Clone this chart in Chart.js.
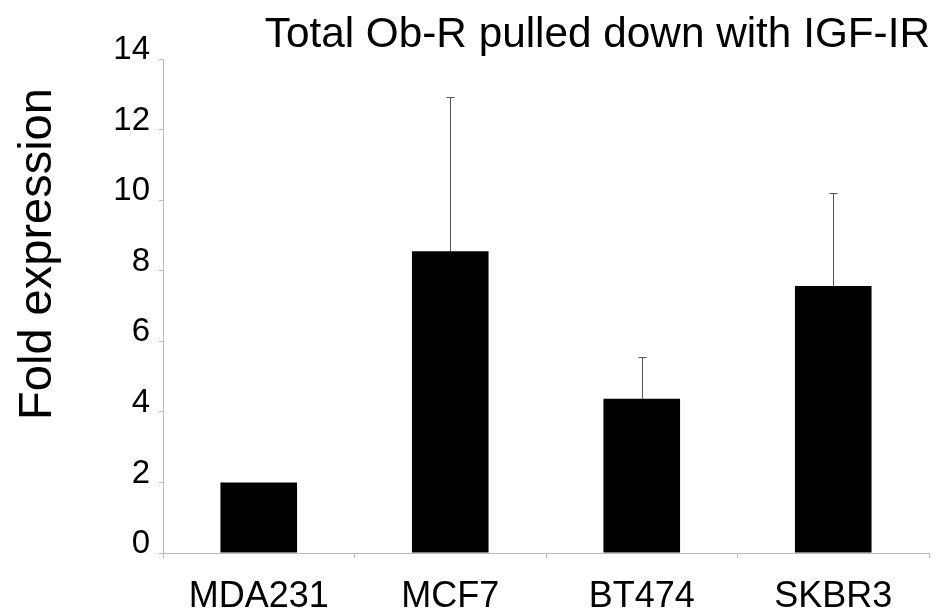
<!DOCTYPE html>
<html>
<head>
<meta charset="utf-8">
<title>Total Ob-R pulled down with IGF-IR</title>
<script src="https://cdn.jsdelivr.net/npm/chart.js@4"></script>
<style>
  html, body { margin: 0; padding: 0; background: #fff; }
  #wrap { width: 949px; height: 614px; }
</style>
</head>
<body>
<div id="wrap"><canvas id="foldChart" width="949" height="614"></canvas></div>
<script>
// data
const cellLines = ["MDA231", "MCF7", "BT474", "SKBR3"];
const foldValues = [2.0, 8.55, 4.37, 7.57];
const errorTops = [null, 12.93, 5.56, 10.21];   // upper end of each error bar
const yTicks = [0, 2, 4, 6, 8, 10, 12, 14];

const FONT = '"Liberation Sans", Arial, Helvetica, sans-serif';

// draws the upward-only error bars with small caps
const errorBarPlugin = {
  id: 'errorBars',
  afterDatasetsDraw(chart) {
    const ctx = chart.ctx;
    const meta = chart.getDatasetMeta(0);
    const y = chart.scales.y;
    ctx.save();
    ctx.strokeStyle = '#555';
    ctx.lineWidth = 1;
    meta.data.forEach((bar, i) => {
      if (errorTops[i] == null) return;
      const x = Math.round(bar.x) + 0.5;
      const yTop = Math.round(y.getPixelForValue(errorTops[i])) + 0.5;
      ctx.beginPath();
      ctx.moveTo(x, bar.y);
      ctx.lineTo(x, yTop);
      ctx.moveTo(x - 4, yTop);
      ctx.lineTo(x + 4, yTop);
      ctx.stroke();
    });
    ctx.restore();
  }
};

// chart title (top right) and the y axis title, which sits a bit above centre
const textPlugin = {
  id: 'figureText',
  afterDraw(chart) {
    const ctx = chart.ctx;
    const area = chart.chartArea;
    ctx.save();
    ctx.fillStyle = '#000';
    ctx.font = '42.3px ' + FONT;
    ctx.textAlign = 'right';
    ctx.textBaseline = 'alphabetic';
    ctx.fillText('Total Ob-R pulled down with IGF-IR', area.right + 1, 47);

    ctx.font = '47px ' + FONT;
    ctx.textAlign = 'center';
    ctx.translate(51, 254);
    ctx.rotate(-Math.PI / 2);
    ctx.fillText('Fold expression', 0, 0);
    ctx.restore();
  }
};

const ctx = document.getElementById('foldChart').getContext('2d');
new Chart(ctx, {
  type: 'bar',
  data: {
    labels: cellLines,
    datasets: [{
      data: foldValues,
      backgroundColor: '#000',
      borderColor: '#000',
      borderWidth: 0,
      barPercentage: 0.4,
      categoryPercentage: 1.0
    }]
  },
  options: {
    responsive: false,
    animation: false,
    layout: { padding: { top: 59, right: 20, left: 0, bottom: 0 } },
    plugins: {
      legend: { display: false },
      tooltip: { enabled: false },
      title: { display: false }
    },
    scales: {
      x: {
        grid: {
          drawOnChartArea: false,
          drawTicks: true,
          tickLength: 5,
          tickColor: '#bbb',
          offset: true
        },
        border: { color: '#bbb', width: 1 },
        ticks: {
          color: '#000',
          font: { family: FONT, size: 36 },
          padding: 17,
          maxRotation: 0
        },
        afterFit(scale) { scale.height = 61; }
      },
      y: {
        min: 0,
        max: 14,
        afterBuildTicks(scale) { scale.ticks = yTicks.map(v => ({ value: v })); },
        grid: {
          drawOnChartArea: false,
          drawTicks: true,
          tickLength: 4,
          tickColor: '#bbb'
        },
        border: { color: '#bbb', width: 1 },
        ticks: {
          color: '#000',
          font: { family: FONT, size: 33 },
          padding: 9,
          labelOffset: -9
        },
        afterFit(scale) { scale.width = 163; }
      }
    }
  },
  plugins: [errorBarPlugin, textPlugin]
});
</script>
</body>
</html>
